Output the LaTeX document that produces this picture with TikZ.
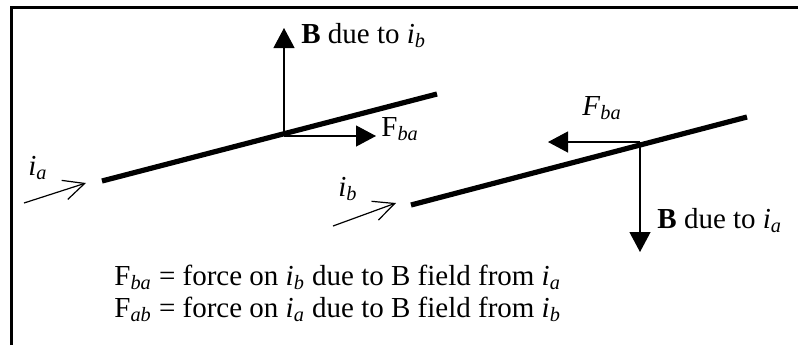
\documentclass[tikz,border=0pt]{standalone}
\usepackage{fontspec}
\setmainfont{Liberation Serif}
\usepackage{tikz}
\usetikzlibrary{arrows.meta, positioning}
\newcommand{\cur}[1]{\textit{i}\textsubscript{\textit{#1}}}
\newcommand{\frc}[1]{F\textsubscript{\textit{#1}}}

\begin{document}
\begin{tikzpicture}[x=0.5pt, y=-0.5pt, font=\fontsize{14.5}{16}\selectfont,
  wire/.style={line width=2.6pt},
  vec/.style={line width=0.6pt, -{Triangle[length=10pt, width=10.5pt]}},
  flow/.style={line width=0.6pt, -{Straight Barb[length=10.5pt, width=10pt]}},
  lbl/.style={inner sep=0pt, anchor=base west}]
  \useasboundingbox (0,0) rectangle (798,345);
  % frame
  \draw[line width=1.5pt] (11,345) -- (11,7) -- (798,7);

  % wire a
  \coordinate (a0) at (102,181);
  \coordinate (a1) at (437,94);
  \draw[wire] (a0) -- (a1);
  \coordinate (ja) at (284,136);
  \coordinate (Bbtip) at (284,28);
  \coordinate (Fatip) at (376,136);
  \draw[vec] (ja) -- (Bbtip);
  \draw[vec] (ja) -- (Fatip);
  \node[lbl] (Bblbl) at (301,43) {\textbf{B} due to \cur{b}};
  \node[lbl] (Falbl) at (381,136) {\frc{ba}};

  % current a
  \coordinate (ia0) at (24,203);
  \coordinate (ia1) at (86,183);
  \draw[flow] (ia0) -- (ia1);
  \node[lbl] (ialbl) at (28,175) {\cur{a}};

  % wire b
  \coordinate (b0) at (411,205);
  \coordinate (b1) at (747,117);
  \draw[wire] (b0) -- (b1);
  \coordinate (jb) at (640,142);
  \coordinate (Batip) at (640,252);
  \coordinate (Fbtip) at (548,142);
  \draw[vec] (jb) -- (Batip);
  \draw[vec] (jb) -- (Fbtip);
  \node[lbl] (Balbl) at (657,228) {\textbf{B} due to \cur{a}};
  \node[lbl] (Fblbl) at (582,115) {\textit{F}\textsubscript{\textit{ba}}};

  % current b
  \coordinate (ib0) at (333,226);
  \coordinate (ib1) at (396,203);
  \draw[flow] (ib0) -- (ib1);
  \node[lbl] (iblbl) at (338,196) {\cur{b}};

  % legend
  \node[lbl] (key1) at (114,285) {\frc{ba} = force on \cur{b} due to B field from \cur{a}};
  \node[lbl] (key2) at (114,317) {\frc{ab} = force on \cur{a} due to B field from \cur{b}};
\end{tikzpicture}
\end{document}
